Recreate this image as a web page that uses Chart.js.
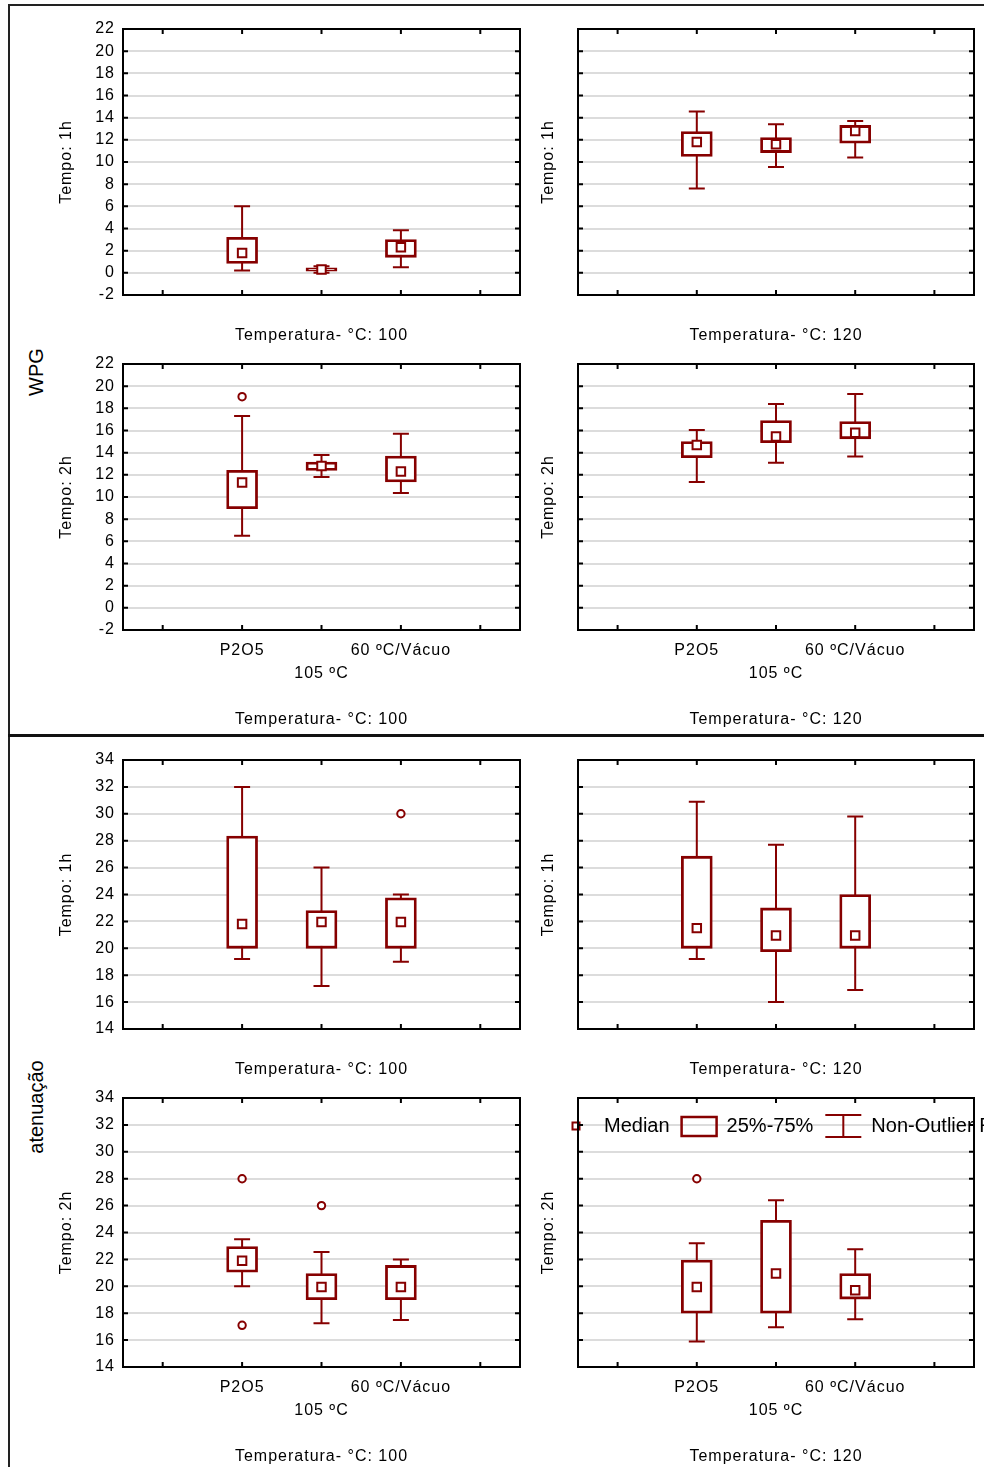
<!DOCTYPE html>
<html>
<head>
<meta charset="utf-8">
<script src="https://cdn.jsdelivr.net/npm/chart.js@4.4.1/dist/chart.umd.min.js"></script>
<style>
  body { margin: 0; background: #fff; width: 984px; height: 1467px; overflow: hidden; position: relative;
         font-family: "Liberation Sans", Arial, sans-serif; }
  canvas { position: absolute; }
  .rule { position: absolute; background: #222; }
  .section { position: absolute; font-size: 20px; white-space: nowrap; color: #000;
             transform: translate(-50%, -50%) rotate(-90deg); }
</style>
</head>
<body>
<div class="rule" style="left:8px;top:4px;width:976px;height:2px"></div>
<div class="rule" style="left:8px;top:4px;width:2px;height:1463px"></div>
<div class="rule" style="left:8px;top:734px;width:976px;height:3px;background:#111"></div>
<div class="section" style="left:36px;top:372px">WPG</div>
<div class="section" style="left:36px;top:1107px">atenuação</div>

<script>
// ---------------- DATA ----------------
const categories = ["", "P2O5", "105 ºC", "60 ºC/Vácuo", ""];
const rowTitles = ["Tempo: 1h", "Tempo: 2h", "Tempo: 1h", "Tempo: 2h"];
const colTitles = ["Temperatura- °C: 100", "Temperatura- °C: 120"];
const wpgTicks = { min: -2, max: 22, step: 2 };
const atenTicks = { min: 14, max: 34, step: 2 };
const legendLabels = ["Median", "25%-75%", "Non-Outlier Range"];

// panels: WPG 1h/100, WPG 1h/120, WPG 2h/100, WPG 2h/120, aten 1h/100, aten 1h/120, aten 2h/100, aten 2h/120
const whiskerLow = [
  [0.2, 0.0, 0.5], [7.6, 9.55, 10.4], [6.5, 11.8, 10.35], [11.35, 13.1, 13.65],
  [19.2, 17.2, 19.0], [19.2, 16.0, 16.9], [20.0, 17.25, 17.5], [15.9, 16.95, 17.55]
];
const boxLow = [
  [0.85, 0.15, 1.4], [10.5, 10.85, 11.7], [8.95, 12.4, 11.35], [13.55, 14.9, 15.25],
  [20.0, 20.0, 20.0], [20.0, 19.75, 20.0], [21.05, 19.0, 19.0], [18.0, 18.0, 19.05]
];
const medians = [
  [1.8, 0.3, 2.3], [11.8, 11.6, 12.8], [11.3, 12.8, 12.3], [14.7, 15.45, 15.8],
  [21.8, 21.95, 21.95], [21.5, 20.95, 20.95], [21.9, 19.95, 19.95], [19.95, 20.95, 19.7]
];
const boxHigh = [
  [3.2, 0.45, 3.0], [12.75, 12.2, 13.3], [12.4, 13.15, 13.7], [15.0, 16.9, 16.8],
  [28.35, 22.8, 23.75], [26.85, 23.0, 24.0], [22.95, 20.95, 21.55], [21.95, 24.9, 20.95]
];
const whiskerHigh = [
  [6.0, 0.6, 3.85], [14.55, 13.4, 13.7], [17.3, 13.8, 15.7], [16.05, 18.4, 19.3],
  [32.0, 26.0, 24.0], [30.9, 27.7, 29.8], [23.5, 22.55, 22.0], [23.2, 26.4, 22.75]
];
const outliers = [
  [], [], [["P2O5", 19.05]], [],
  [["60 ºC/Vácuo", 30.0]], [], [["P2O5", 28.0], ["P2O5", 17.1], ["105 ºC", 26.0]], [["P2O5", 28.0]]
];

// ---------------- LAYOUT ----------------
const RED = "#860000";
const plotLeft = [123, 578];
const plotW = [397, 396];
const plotTop = [29, 364, 760, 1098];
const plotH = [266, 266, 269, 269];
const axisH = [52, 102, 52, 102];
const yAxisW = 78, padTop = 14, padRight = 10;

Chart.defaults.font.family = "'Liberation Sans', Arial, sans-serif";
Chart.defaults.font.size = 16;
Chart.defaults.color = "#000";

// wider glyph spacing, like the original export
const spacingPlugin = {
  id: "spacing",
  beforeDraw(chart) { chart.ctx.letterSpacing = "1px"; }
};

// whiskers under the boxes
const whiskerPlugin = {
  id: "whiskers",
  beforeDatasetsDraw(chart, args, opts) {
    const { ctx, scales: { x, y } } = chart;
    ctx.save();
    ctx.strokeStyle = RED;
    ctx.lineWidth = 2;
    opts.low.forEach((lo, k) => {
      const px = x.getPixelForValue(k + 1);
      const y1 = y.getPixelForValue(lo), y2 = y.getPixelForValue(opts.high[k]);
      ctx.beginPath();
      ctx.moveTo(px, y1); ctx.lineTo(px, y2);
      ctx.moveTo(px - 8, y1); ctx.lineTo(px + 8, y1);
      ctx.moveTo(px - 8, y2); ctx.lineTo(px + 8, y2);
      ctx.stroke();
    });
    ctx.restore();
  }
};

// legend drawn inside last panel
const legendPlugin = {
  id: "boxLegend",
  afterDatasetsDraw(chart, args, opts) {
    if (!opts.show) return;
    const { ctx, chartArea } = chart;
    const cy = chartArea.top + 28;
    ctx.save();
    ctx.letterSpacing = "0px";
    ctx.font = "20px 'Liberation Sans', Arial, sans-serif";
    ctx.textBaseline = "middle";
    ctx.fillStyle = "#000";
    ctx.strokeStyle = RED;
    let x = chartArea.left - 2;
    // median marker
    ctx.lineWidth = 2;
    ctx.strokeRect(x - 3.5, cy - 3.5, 7, 7);
    x += 28;
    ctx.fillText(legendLabels[0], x, cy);
    x += ctx.measureText(legendLabels[0]).width + 12;
    // box
    ctx.lineWidth = 2.5;
    ctx.strokeRect(x, cy - 9, 35, 19);
    x += 45;
    ctx.fillText(legendLabels[1], x, cy);
    x += ctx.measureText(legendLabels[1]).width + 12;
    // whisker
    ctx.lineWidth = 2;
    ctx.beginPath();
    ctx.moveTo(x, cy - 11); ctx.lineTo(x + 36, cy - 11);
    ctx.moveTo(x, cy + 11); ctx.lineTo(x + 36, cy + 11);
    ctx.moveTo(x + 18, cy - 11); ctx.lineTo(x + 18, cy + 11);
    ctx.stroke();
    x += 46;
    ctx.fillText(legendLabels[2], x, cy);
    ctx.restore();
  }
};

// black frame with inward tick marks
const framePlugin = {
  id: "frame",
  afterDraw(chart) {
    const { ctx, chartArea: a, scales: { x, y } } = chart;
    ctx.save();
    ctx.strokeStyle = "#000";
    ctx.lineWidth = 2;
    ctx.beginPath();
    y.ticks.forEach(t => {
      if (t.value === y.min || t.value === y.max) return;
      const py = y.getPixelForValue(t.value);
      ctx.moveTo(a.left, py); ctx.lineTo(a.left + 5, py);
      ctx.moveTo(a.right, py); ctx.lineTo(a.right - 5, py);
    });
    categories.forEach((c, k) => {
      const px = x.getPixelForValue(k);
      ctx.moveTo(px, a.top); ctx.lineTo(px, a.top + 5);
      ctx.moveTo(px, a.bottom); ctx.lineTo(px, a.bottom - 5);
    });
    ctx.stroke();
    ctx.strokeRect(a.left, a.top, a.right - a.left, a.bottom - a.top);
    ctx.restore();
  }
};

function makePanel(i) {
  const r = Math.floor(i / 2), c = i % 2;
  const ticks = i < 4 ? wpgTicks : atenTicks;
  const showX = r % 2 === 1;

  const canvas = document.createElement("canvas");
  canvas.width = yAxisW + plotW[c] + padRight;
  canvas.height = padTop + plotH[r] + axisH[r];
  canvas.style.left = (plotLeft[c] - yAxisW) + "px";
  canvas.style.top = (plotTop[r] - padTop) + "px";
  document.body.appendChild(canvas);

  const boxes = categories.map((cat, k) => (k >= 1 && k <= 3) ? [boxLow[i][k - 1], boxHigh[i][k - 1]] : null);
  const meds = categories.map((cat, k) => (k >= 1 && k <= 3) ? medians[i][k - 1] : null);
  const outs = outliers[i].map(o => ({ x: o[0], y: o[1] }));

  new Chart(canvas, {
    type: "bar",
    data: {
      labels: categories,
      datasets: [
        { type: "bar", data: boxes, backgroundColor: "#fff", borderColor: RED, borderWidth: 2.8,
          borderSkipped: false, barThickness: 31, order: 3 },
        { type: "line", data: meds, showLine: false, pointStyle: "rect", pointRadius: 6,
          pointBorderWidth: 2, borderColor: RED, backgroundColor: "#fff", order: 2 },
        { type: "line", data: outs, showLine: false, pointStyle: "circle", pointRadius: 3.7,
          pointBorderWidth: 2, borderColor: RED, backgroundColor: "#fff", order: 1 }
      ]
    },
    options: {
      responsive: false,
      animation: false,
      events: [],
      layout: { padding: { top: padTop, right: padRight, left: 0, bottom: 0 } },
      plugins: {
        legend: { display: false },
        tooltip: { enabled: false },
        whiskers: { low: whiskerLow[i], high: whiskerHigh[i] },
        boxLegend: { show: i === 7 }
      },
      scales: {
        x: {
          type: "category",
          offset: true,
          grid: { display: false },
          border: { display: false },
          ticks: {
            display: showX, autoSkip: false, maxRotation: 0, padding: 1,
            font: { size: 16, lineHeight: 1.44 },
            callback: (v, k) => k === 2 ? ["", categories[k]] : categories[k]
          },
          title: { display: true, text: colTitles[c], padding: { top: 0, bottom: r % 2 ? 2.4 : 1.4 } },
          afterFit: s => { s.height = axisH[r]; s.paddingLeft = 0; s.paddingRight = 0; }
        },
        y: {
          min: ticks.min, max: ticks.max,
          grid: { color: "#dcdcdc", lineWidth: 2, drawTicks: false },
          border: { display: false },
          ticks: { stepSize: ticks.step, display: c === 0, autoSkip: false, padding: 8 },
          title: { display: true, text: rowTitles[r], padding: { top: c === 0 ? 12.4 : 39.4, bottom: 0 } },
          afterFit: s => { s.width = yAxisW; s.paddingTop = 0; s.paddingBottom = 0; }
        }
      }
    },
    plugins: [spacingPlugin, whiskerPlugin, legendPlugin, framePlugin]
  });
}

for (let i = 0; i < 8; i++) makePanel(i);
</script>
</body>
</html>
